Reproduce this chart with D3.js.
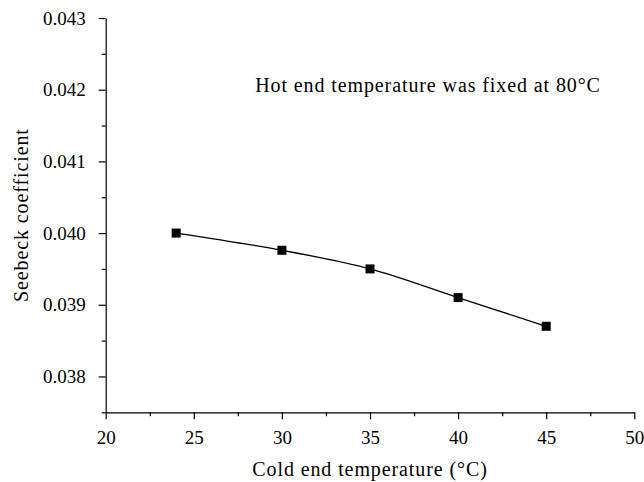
<!DOCTYPE html>
<html>
<head>
<meta charset="utf-8">
<script src="https://cdn.jsdelivr.net/npm/d3@7"></script>
<style>
  body { margin: 0; background: #fff; }
  svg text { font-family: "Liberation Serif", "DejaVu Serif", serif !important; fill: #000; }
</style>
</head>
<body>
<svg width="644" height="482"></svg>
<script>
// данные графика
const coldTemp = [24, 30, 35, 40, 45];
const seebeck = [0.0400, 0.03976, 0.0395, 0.0391, 0.0387];
const xTicks = [20, 25, 30, 35, 40, 45, 50];
const yTicks = [0.038, 0.039, 0.040, 0.041, 0.042, 0.043];
const note = "Hot end temperature was fixed at 80°C";

const svg = d3.select("svg");
const serif = "Liberation Serif, DejaVu Serif, serif";
const mLeft = 105.7, mRight = 634.3, mTop = 18, mBottom = 412.3;

const x = d3.scaleLinear().domain([20, 50]).range([mLeft, mRight]);
const y = d3.scaleLinear().domain([0.0375, 0.043]).range([mBottom, mTop]);

// ось X: большие и малые деления
const xMinor = d3.range(22.5, 50, 5);
svg.append("g")
    .attr("transform", `translate(0,${mBottom})`)
    .call(d3.axisBottom(x).tickValues(xMinor).tickSize(4).tickFormat(""))
    .call(g => g.select(".domain").remove());
svg.append("g")
    .attr("transform", `translate(0,${mBottom})`)
    .call(d3.axisBottom(x).tickValues(xTicks).tickSize(7).tickSizeOuter(0).tickPadding(11).tickFormat(d3.format("d")))
    .attr("font-family", serif)
    .call(g => g.selectAll("text").attr("font-size", 19));

// ось Y
const yMinor = d3.range(0.0375, 0.043, 0.001);
svg.append("g")
    .attr("transform", `translate(${mLeft},0)`)
    .call(d3.axisLeft(y).tickValues(yMinor).tickSize(4).tickFormat(""))
    .call(g => g.select(".domain").remove());
svg.append("g")
    .attr("transform", `translate(${mLeft},0)`)
    .call(d3.axisLeft(y).tickValues(yTicks).tickSize(7).tickSizeOuter(0).tickPadding(13).tickFormat(d3.format(".3f")))
    .attr("font-family", serif)
    .call(g => g.selectAll("text").attr("font-size", 19));

svg.selectAll(".domain, .tick line").attr("stroke", "#000").attr("stroke-width", 1.2);

// линия и маркеры
const data = coldTemp.map((t, i) => ({x: t, y: seebeck[i]}));
const line = d3.line()
    .x(d => x(d.x))
    .y(d => y(d.y))
    .curve(d3.curveCatmullRom);
svg.append("path")
    .attr("d", line(data))
    .attr("fill", "none")
    .attr("stroke", "#000")
    .attr("stroke-width", 1.3);
svg.selectAll("rect.pt")
    .data(data)
    .join("rect")
    .attr("class", "pt")
    .attr("x", d => x(d.x) - 4.5)
    .attr("y", d => y(d.y) - 4.5)
    .attr("width", 9)
    .attr("height", 9)
    .attr("fill", "#000");

// подписи
svg.append("text")
    .attr("x", 428).attr("y", 92)
    .attr("text-anchor", "middle")
    .attr("font-size", 20)
    .attr("letter-spacing", 0.9)
    .text(note);
svg.append("text")
    .attr("x", (mLeft + mRight) / 2).attr("y", 476)
    .attr("text-anchor", "middle")
    .attr("font-size", 20)
    .attr("letter-spacing", 0.9)
    .text("Cold end temperature (°C)");
svg.append("text")
    .attr("transform", `translate(28,${(mTop + mBottom) / 2}) rotate(-90)`)
    .attr("text-anchor", "middle")
    .attr("font-size", 20)
    .attr("letter-spacing", 0.9)
    .text("Seebeck coefficient");
</script>
</body>
</html>
